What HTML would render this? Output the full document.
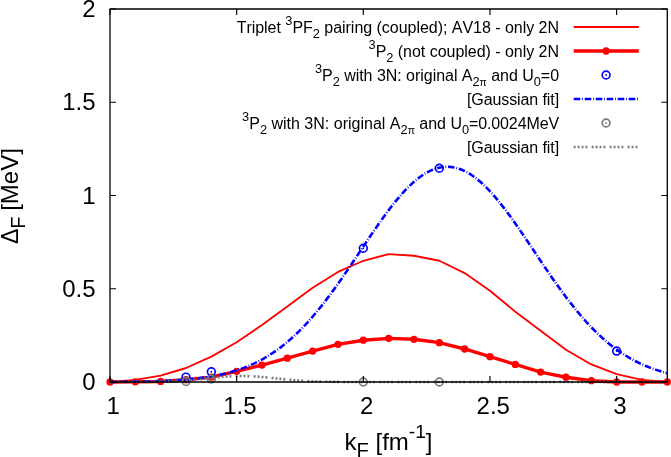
<!DOCTYPE html>
<html><head><meta charset="utf-8"><title>plot</title>
<style>html,body{margin:0;padding:0;background:#fff;}svg{display:block;will-change:transform;}text{font-family:"Liberation Sans",sans-serif;font-kerning:none;}</style></head>
<body>
<svg width="671" height="457" viewBox="0 0 671 457">
<rect width="671" height="457" fill="#fff"/>
<g font-family="Liberation Sans, sans-serif" font-size="24" fill="#000">
<text x="95.5" y="390.00" text-anchor="end">0</text>
<text x="95.5" y="296.75" text-anchor="end">0.5</text>
<text x="95.5" y="203.50" text-anchor="end">1</text>
<text x="95.5" y="110.25" text-anchor="end">1.5</text>
<text x="95.5" y="17.00" text-anchor="end">2</text>
<text x="113.30" y="413.8" text-anchor="middle">1</text>
<text x="239.96" y="413.8" text-anchor="middle">1.5</text>
<text x="366.62" y="413.8" text-anchor="middle">2</text>
<text x="493.28" y="413.8" text-anchor="middle">2.5</text>
<text x="619.94" y="413.8" text-anchor="middle">3</text>
</g>
<g font-family="Liberation Sans, sans-serif" font-size="24" fill="#000">
<g transform="translate(17.5,196.7) rotate(-90)"><text x="-47.2" y="0" font-size="23.2">Δ</text><text x="-32.1" y="7.2" font-size="20.2">F</text><text x="-14.14" y="0">[MeV]</text></g>
<text x="388.5" y="450" text-anchor="middle">k<tspan font-size="20.2" dy="7.2">F</tspan><tspan dy="-7.2"> [fm</tspan><tspan font-size="19.2" dy="-12">-1</tspan><tspan dy="12">]</tspan></text>
</g>
<path d="M110.00,382.00 L135.33,379.95 L160.66,375.66 L186.00,368.01 L211.33,356.64 L236.66,342.28 L261.99,324.93 L287.32,306.47 L312.65,287.82 L337.99,271.97 L363.32,260.77 L388.65,254.06 L413.98,255.74 L439.31,260.77 L464.65,273.08 L489.98,290.80 L515.31,311.69 L540.64,330.71 L565.97,349.74 L591.30,364.47 L616.64,374.17 L641.97,379.95 L667.30,382.00" stroke="#ff0000" stroke-width="1.85" fill="none" stroke-linejoin="round"/>
<path d="M110.00,382.00 L135.33,381.81 L160.66,381.44 L186.00,379.76 L211.33,377.15 L236.66,371.37 L261.99,365.03 L287.32,358.13 L312.65,351.04 L337.99,344.33 L363.32,340.22 L388.65,338.36 L413.98,339.29 L439.31,342.65 L464.65,348.99 L489.98,356.64 L515.31,364.47 L540.64,372.12 L565.97,377.24 L591.30,380.69 L616.64,382.00 L641.97,382.00 L667.30,382.00" stroke="#ff0000" stroke-width="3.4" fill="none" stroke-linejoin="round"/>
<circle cx="110.00" cy="382.00" r="3.65" fill="#ff0000"/>
<circle cx="135.33" cy="381.81" r="3.65" fill="#ff0000"/>
<circle cx="160.66" cy="381.44" r="3.65" fill="#ff0000"/>
<circle cx="186.00" cy="379.76" r="3.65" fill="#ff0000"/>
<circle cx="211.33" cy="377.15" r="3.65" fill="#ff0000"/>
<circle cx="236.66" cy="371.37" r="3.65" fill="#ff0000"/>
<circle cx="261.99" cy="365.03" r="3.65" fill="#ff0000"/>
<circle cx="287.32" cy="358.13" r="3.65" fill="#ff0000"/>
<circle cx="312.65" cy="351.04" r="3.65" fill="#ff0000"/>
<circle cx="337.99" cy="344.33" r="3.65" fill="#ff0000"/>
<circle cx="363.32" cy="340.22" r="3.65" fill="#ff0000"/>
<circle cx="388.65" cy="338.36" r="3.65" fill="#ff0000"/>
<circle cx="413.98" cy="339.29" r="3.65" fill="#ff0000"/>
<circle cx="439.31" cy="342.65" r="3.65" fill="#ff0000"/>
<circle cx="464.65" cy="348.99" r="3.65" fill="#ff0000"/>
<circle cx="489.98" cy="356.64" r="3.65" fill="#ff0000"/>
<circle cx="515.31" cy="364.47" r="3.65" fill="#ff0000"/>
<circle cx="540.64" cy="372.12" r="3.65" fill="#ff0000"/>
<circle cx="565.97" cy="377.24" r="3.65" fill="#ff0000"/>
<circle cx="591.30" cy="380.69" r="3.65" fill="#ff0000"/>
<circle cx="616.64" cy="382.00" r="3.65" fill="#ff0000"/>
<circle cx="641.97" cy="382.00" r="3.65" fill="#ff0000"/>
<circle cx="667.30" cy="382.00" r="3.65" fill="#ff0000"/>
<path d="M110.00,381.88 L112.79,381.86 L115.57,381.85 L118.36,381.83 L121.15,381.80 L123.93,381.78 L126.72,381.75 L129.51,381.72 L132.29,381.69 L135.08,381.65 L137.87,381.60 L140.65,381.56 L143.44,381.50 L146.22,381.45 L149.01,381.38 L151.80,381.31 L154.58,381.23 L157.37,381.15 L160.16,381.05 L162.94,380.95 L165.73,380.83 L168.52,380.70 L171.30,380.57 L174.09,380.41 L176.88,380.25 L179.66,380.07 L182.45,379.87 L185.24,379.65 L188.02,379.41 L190.81,379.16 L193.59,378.88 L196.38,378.58 L199.17,378.25 L201.95,377.89 L204.74,377.51 L207.53,377.09 L210.31,376.65 L213.10,376.16 L215.89,375.64 L218.67,375.08 L221.46,374.48 L224.25,373.84 L227.03,373.15 L229.82,372.41 L232.61,371.61 L235.39,370.77 L238.18,369.87 L240.97,368.91 L243.75,367.89 L246.54,366.80 L249.32,365.65 L252.11,364.42 L254.90,363.13 L257.68,361.76 L260.47,360.31 L263.26,358.79 L266.04,357.18 L268.83,355.49 L271.62,353.71 L274.40,351.84 L277.19,349.89 L279.98,347.84 L282.76,345.69 L285.55,343.46 L288.34,341.12 L291.12,338.69 L293.91,336.16 L296.70,333.53 L299.48,330.81 L302.27,327.99 L305.05,325.07 L307.84,322.05 L310.63,318.94 L313.41,315.73 L316.20,312.43 L318.99,309.04 L321.77,305.57 L324.56,302.01 L327.35,298.37 L330.13,294.66 L332.92,290.87 L335.71,287.02 L338.49,283.11 L341.28,279.14 L344.07,275.11 L346.85,271.05 L349.64,266.95 L352.43,262.82 L355.21,258.66 L358.00,254.50 L360.79,250.32 L363.57,246.15 L366.36,241.99 L369.14,237.85 L371.93,233.74 L374.72,229.67 L377.50,225.64 L380.29,221.68 L383.08,217.78 L385.86,213.96 L388.65,210.22 L391.44,206.58 L394.22,203.05 L397.01,199.63 L399.80,196.34 L402.58,193.18 L405.37,190.17 L408.16,187.30 L410.94,184.59 L413.73,182.05 L416.51,179.69 L419.30,177.51 L422.09,175.51 L424.87,173.71 L427.66,172.10 L430.45,170.70 L433.23,169.51 L436.02,168.53 L438.81,167.77 L441.59,167.22 L444.38,166.89 L447.17,166.78 L449.95,166.89 L452.74,167.22 L455.53,167.77 L458.31,168.53 L461.10,169.51 L463.89,170.70 L466.67,172.10 L469.46,173.71 L472.25,175.51 L475.03,177.51 L477.82,179.69 L480.60,182.05 L483.39,184.59 L486.18,187.30 L488.96,190.17 L491.75,193.18 L494.54,196.34 L497.32,199.63 L500.11,203.05 L502.90,206.58 L505.68,210.22 L508.47,213.96 L511.26,217.78 L514.04,221.68 L516.83,225.64 L519.62,229.67 L522.40,233.74 L525.19,237.85 L527.98,241.99 L530.76,246.15 L533.55,250.32 L536.33,254.50 L539.12,258.66 L541.91,262.82 L544.69,266.95 L547.48,271.05 L550.27,275.11 L553.05,279.14 L555.84,283.11 L558.63,287.02 L561.41,290.87 L564.20,294.66 L566.99,298.37 L569.77,302.01 L572.56,305.57 L575.35,309.04 L578.13,312.43 L580.92,315.73 L583.70,318.94 L586.49,322.05 L589.28,325.07 L592.06,327.99 L594.85,330.81 L597.64,333.53 L600.42,336.16 L603.21,338.69 L606.00,341.12 L608.78,343.46 L611.57,345.69 L614.36,347.84 L617.14,349.89 L619.93,351.84 L622.72,353.71 L625.50,355.49 L628.29,357.18 L631.08,358.79 L633.86,360.31 L636.65,361.76 L639.43,363.13 L642.22,364.42 L645.01,365.65 L647.79,366.80 L650.58,367.89 L653.37,368.91 L656.15,369.87 L658.94,370.77 L661.73,371.61 L664.51,372.41 L667.30,373.15" stroke="#0000ff" stroke-width="2.6" fill="none" stroke-dasharray="6.6,1.8,0.8,1.8"/>
<circle cx="186.00" cy="377.15" r="3.9" fill="none" stroke="#0000ff" stroke-width="1.65"/><circle cx="186.00" cy="377.15" r="0.9" fill="#0000ff"/>
<circle cx="211.33" cy="371.74" r="3.9" fill="none" stroke="#0000ff" stroke-width="1.65"/><circle cx="211.33" cy="371.74" r="0.9" fill="#0000ff"/>
<circle cx="363.32" cy="248.28" r="3.9" fill="none" stroke="#0000ff" stroke-width="1.65"/><circle cx="363.32" cy="248.28" r="0.9" fill="#0000ff"/>
<circle cx="439.31" cy="168.27" r="3.9" fill="none" stroke="#0000ff" stroke-width="1.65"/><circle cx="439.31" cy="168.27" r="0.9" fill="#0000ff"/>
<circle cx="616.64" cy="351.04" r="3.9" fill="none" stroke="#0000ff" stroke-width="1.65"/><circle cx="616.64" cy="351.04" r="0.9" fill="#0000ff"/>
<path d="M110.00,382.00 L112.79,382.00 L115.57,381.99 L118.36,381.99 L121.15,381.99 L123.93,381.98 L126.72,381.98 L129.51,381.97 L132.29,381.96 L135.08,381.95 L137.87,381.94 L140.65,381.92 L143.44,381.90 L146.22,381.88 L149.01,381.85 L151.80,381.81 L154.58,381.77 L157.37,381.72 L160.16,381.65 L162.94,381.58 L165.73,381.49 L168.52,381.40 L171.30,381.28 L174.09,381.16 L176.88,381.01 L179.66,380.85 L182.45,380.67 L185.24,380.47 L188.02,380.26 L190.81,380.03 L193.59,379.78 L196.38,379.52 L199.17,379.25 L201.95,378.97 L204.74,378.67 L207.53,378.38 L210.31,378.09 L213.10,377.80 L215.89,377.51 L218.67,377.24 L221.46,376.99 L224.25,376.76 L227.03,376.56 L229.82,376.38 L232.61,376.24 L235.39,376.13 L238.18,376.06 L240.97,376.03 L243.75,376.04 L246.54,376.09 L249.32,376.18 L252.11,376.30 L254.90,376.46 L257.68,376.65 L260.47,376.86 L263.26,377.11 L266.04,377.37 L268.83,377.64 L271.62,377.93 L274.40,378.22 L277.19,378.51 L279.98,378.81 L282.76,379.10 L285.55,379.37 L288.34,379.64 L291.12,379.90 L293.91,380.14 L296.70,380.36 L299.48,380.57 L302.27,380.75 L305.05,380.93 L307.84,381.08 L310.63,381.22 L313.41,381.34 L316.20,381.44 L318.99,381.53 L321.77,381.61 L324.56,381.68 L327.35,381.74 L330.13,381.79 L332.92,381.83 L335.71,381.86 L338.49,381.89 L341.28,381.91 L344.07,381.93 L346.85,381.95 L349.64,381.96 L352.43,381.97 L355.21,381.98 L358.00,381.98 L360.79,381.99 L363.57,381.99 L366.36,381.99 L369.14,381.99 L371.93,382.00 L374.72,382.00 L377.50,382.00 L380.29,382.00 L383.08,382.00 L385.86,382.00 L388.65,382.00 L391.44,382.00 L394.22,382.00 L397.01,382.00 L399.80,382.00 L402.58,382.00 L405.37,382.00 L408.16,382.00 L410.94,382.00 L413.73,382.00 L416.51,382.00 L419.30,382.00 L422.09,382.00 L424.87,382.00 L427.66,382.00 L430.45,382.00 L433.23,382.00 L436.02,382.00 L438.81,382.00 L441.59,382.00 L444.38,382.00 L447.17,382.00 L449.95,382.00 L452.74,382.00 L455.53,382.00 L458.31,382.00 L461.10,382.00 L463.89,382.00 L466.67,382.00 L469.46,382.00 L472.25,382.00 L475.03,382.00 L477.82,382.00 L480.60,382.00 L483.39,382.00 L486.18,382.00 L488.96,382.00 L491.75,382.00 L494.54,382.00 L497.32,382.00 L500.11,382.00 L502.90,382.00 L505.68,382.00 L508.47,382.00 L511.26,382.00 L514.04,382.00 L516.83,382.00 L519.62,382.00 L522.40,382.00 L525.19,382.00 L527.98,382.00 L530.76,382.00 L533.55,382.00 L536.33,382.00 L539.12,382.00 L541.91,382.00 L544.69,382.00 L547.48,382.00 L550.27,382.00 L553.05,382.00 L555.84,382.00 L558.63,382.00 L561.41,382.00 L564.20,382.00 L566.99,382.00 L569.77,382.00 L572.56,382.00 L575.35,382.00 L578.13,382.00 L580.92,382.00 L583.70,382.00 L586.49,382.00 L589.28,382.00 L592.06,382.00 L594.85,382.00 L597.64,382.00 L600.42,382.00 L603.21,382.00 L606.00,382.00 L608.78,382.00 L611.57,382.00 L614.36,382.00 L617.14,382.00 L619.93,382.00 L622.72,382.00 L625.50,382.00 L628.29,382.00 L631.08,382.00 L633.86,382.00 L636.65,382.00 L639.43,382.00 L642.22,382.00 L645.01,382.00 L647.79,382.00 L650.58,382.00 L653.37,382.00 L656.15,382.00 L658.94,382.00 L661.73,382.00 L664.51,382.00 L667.30,382.00" stroke="#787878" stroke-width="2.6" fill="none" stroke-dasharray="1.9,2.03,1.9,2.03,1.9,2.03,1.9,4.3"/>
<circle cx="186.00" cy="381.44" r="3.9" fill="none" stroke="#787878" stroke-width="1.65"/><circle cx="186.00" cy="381.44" r="0.9" fill="#787878"/>
<circle cx="211.33" cy="379.02" r="3.9" fill="none" stroke="#787878" stroke-width="1.65"/><circle cx="211.33" cy="379.02" r="0.9" fill="#787878"/>
<circle cx="363.32" cy="382.00" r="3.9" fill="none" stroke="#787878" stroke-width="1.65"/><circle cx="363.32" cy="382.00" r="0.9" fill="#787878"/>
<circle cx="439.31" cy="382.00" r="3.9" fill="none" stroke="#787878" stroke-width="1.65"/><circle cx="439.31" cy="382.00" r="0.9" fill="#787878"/>
<path d="M110.00,382.0 v-6 M110.00,9.0 v6 M236.66,382.0 v-6 M236.66,9.0 v6 M363.32,382.0 v-6 M363.32,9.0 v6 M489.98,382.0 v-6 M489.98,9.0 v6 M616.64,382.0 v-6 M616.64,9.0 v6 M110.0,382.00 h6 M667.3,382.00 h-6 M110.0,288.75 h6 M667.3,288.75 h-6 M110.0,195.50 h6 M667.3,195.50 h-6 M110.0,102.25 h6 M667.3,102.25 h-6 M110.0,9.00 h6 M667.3,9.00 h-6" stroke="#000" stroke-width="1.15" fill="none"/>
<rect x="110.0" y="9.0" width="557.3" height="373.0" fill="none" stroke="#000" stroke-width="1.3" stroke-linejoin="round"/>
<path d="M573.7,27 H638.8" stroke="#ff0000" stroke-width="1.85"/>
<path d="M573.7,51 H638.8" stroke="#ff0000" stroke-width="3.4"/><circle cx="606.1" cy="51" r="3.65" fill="#ff0000"/>
<circle cx="606.1" cy="75" r="3.9" fill="none" stroke="#0000ff" stroke-width="1.65"/><circle cx="606.1" cy="75" r="0.9" fill="#0000ff"/>
<path d="M573.7,99 H638.8" stroke="#0000ff" stroke-width="2.6" stroke-dasharray="6.6,1.8,0.8,1.8"/>
<circle cx="606.1" cy="123" r="3.9" fill="none" stroke="#787878" stroke-width="1.65"/><circle cx="606.1" cy="123" r="0.9" fill="#787878"/>
<path d="M573.7,147 H638.8" stroke="#787878" stroke-width="2.6" stroke-dasharray="1.9,2.03,1.9,2.03,1.9,2.03,1.9,4.3"/>
<g font-family="Liberation Sans, sans-serif" font-size="16" fill="#000" text-anchor="end" letter-spacing="-0.03">
<text x="559" y="32.8">Triplet <tspan font-size="12.8" dy="-8">3</tspan><tspan dy="8">PF</tspan><tspan font-size="12.8" dy="5">2</tspan><tspan dy="-5"> pairing (coupled); AV18 - only 2N</tspan></text>
<text x="559" y="56.8"><tspan font-size="12.8" dy="-8">3</tspan><tspan dy="8">P</tspan><tspan font-size="12.8" dy="5">2</tspan><tspan dy="-5"> (not coupled) - only 2N</tspan></text>
<text x="559" y="80.8"><tspan font-size="12.8" dy="-8">3</tspan><tspan dy="8">P</tspan><tspan font-size="12.8" dy="5">2</tspan><tspan dy="-5"> with 3N: original A</tspan><tspan font-size="12.8" dy="5">2</tspan><tspan font-size="10.4">π</tspan><tspan dy="-5"> and U</tspan><tspan font-size="12.8" dy="5">0</tspan><tspan dy="-5">=0</tspan></text>
<text x="559" y="104.8" letter-spacing="-0.1">[Gaussian fit]</text>
<text x="559" y="128.8" letter-spacing="0.005"><tspan font-size="12.8" dy="-8">3</tspan><tspan dy="8">P</tspan><tspan font-size="12.8" dy="5">2</tspan><tspan dy="-5"> with 3N: original A</tspan><tspan font-size="12.8" dy="5">2</tspan><tspan font-size="10.4">π</tspan><tspan dy="-5"> and <tspan letter-spacing="-0.11">U</tspan></tspan><tspan font-size="12.8" dy="5" letter-spacing="-0.11">0</tspan><tspan dy="-5" letter-spacing="-0.11">=0.0024MeV</tspan></text>
<text x="559" y="152.8" letter-spacing="-0.1">[Gaussian fit]</text>
</g>
</svg>
</body></html>
